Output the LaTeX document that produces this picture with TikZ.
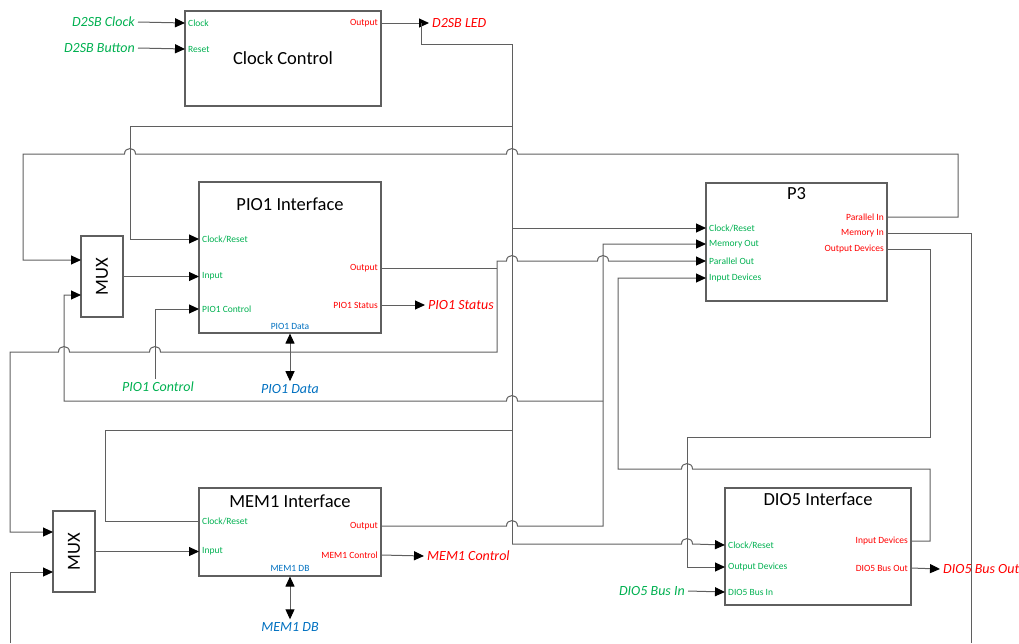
\documentclass[tikz,border=0pt]{standalone}
\usepackage{fontspec}
\setmainfont{Carlito}
\usetikzlibrary{arrows.meta}
\definecolor{ingreen}{RGB}{0,176,80}
\definecolor{outred}{RGB}{255,0,0}
\definecolor{busblue}{RGB}{0,112,192}
\definecolor{wire}{RGB}{95,95,95}
\newcommand{\wirehop}[2]{-- (#1-5.5,#2) .. controls (#1-5.5,#2-7.3) and (#1+5.5,#2-7.3) .. (#1+5.5,#2)}

\begin{document}
\begin{tikzpicture}
      [x=1pt,y=-1pt,
       every node/.style={font=\fontsize{9.5}{11}\selectfont},
       blk/.style={draw=wire,line width=1.1pt,inner sep=0pt},
       ttl/.style={font=\fontsize{18.5}{22}\selectfont},
       pin/.style={text=ingreen,anchor=west,inner sep=3pt},
       pout/.style={text=outred,anchor=east,inner sep=3pt},
       ext/.style={font=\fontsize{14}{16}\selectfont\itshape,inner sep=3pt},
       wr/.style={draw=wire,line width=1pt},
       >={Triangle[length=10pt,width=9pt,color=black]}]
      \useasboundingbox (0,0) rectangle (1019,643);

      \node [blk,minimum width=196pt,minimum height=95pt] (clk) at (283,58.5) {};
      \node [ttl] (clkT) at (283,58) {Clock Control};
      \node [pin] (clkC) at (185,23) {Clock};
      \node [pin] (clkR) at (185,49) {Reset};
      \node [pout] (clkO) at (381,23) {Output};

      \node [blk,minimum width=182pt,minimum height=151pt] (pio) at (290,257.5) {};
      \node [ttl] (pioT) at (290,204) {PIO1 Interface};
      \node [pin] (pioC) at (199,239) {Clock/Reset};
      \node [pin] (pioI) at (199,276.5) {Input};
      \node [pin] (pioP) at (199,309) {PIO1 Control};
      \node [pout] (pioO) at (381,268) {Output};
      \node [pout] (pioS) at (381,305) {PIO1 Status};
      \node [text=busblue] (pioD) at (290,326) {PIO1 Data};

      \node [blk,minimum width=182pt,minimum height=88pt] (mem) at (290,532) {};
      \node [ttl] (memT) at (290,501) {MEM1 Interface};
      \node [pin] (memC) at (199,521) {Clock/Reset};
      \node [pin] (memI) at (199,551.5) {Input};
      \node [pout] (memO) at (381,526) {Output};
      \node [pout] (memM) at (381,555) {MEM1 Control};
      \node [text=busblue] (memD) at (290,568) {MEM1 DB};

      \node [blk,minimum width=181pt,minimum height=118pt] (p3) at (796.5,242) {};
      \node [ttl] (p3T) at (796.5,194) {P3};
      \node [pin] (p3C) at (706,228) {Clock/Reset};
      \node [pin] (p3M) at (706,244) {Memory Out};
      \node [pin] (p3P) at (706,261) {Parallel Out};
      \node [pin] (p3I) at (706,278) {Input Devices};
      \node [pout] (p3PI) at (887,217) {Parallel In};
      \node [pout] (p3MI) at (887,233) {Memory In};
      \node [pout] (p3OD) at (887,249) {Output Devices};

      \node [blk,minimum width=186pt,minimum height=117pt] (dio) at (818,546.5) {};
      \node [ttl] (dioT) at (818,499) {DIO5 Interface};
      \node [pin] (dioC) at (725,545) {Clock/Reset};
      \node [pin] (dioO) at (725,567) {Output Devices};
      \node [pin] (dioB) at (725,592) {DIO5 Bus In};
      \node [pout] (dioID) at (911,541) {Input Devices};
      \node [pout] (dioBO) at (911,568) {DIO5 Bus Out};

      \node [blk,minimum width=42pt,minimum height=81pt] (mux1) at (102,276.5) {};
      \node [ttl,rotate=90] (mux1T) at (102,276.5) {MUX};
      \node [blk,minimum width=42pt,minimum height=81pt] (mux2) at (74,551.5) {};
      \node [ttl,rotate=90] (mux2T) at (74,551.5) {MUX};

      \node [ext,text=ingreen,anchor=east] (xClk) at (138,22) {D2SB Clock};
      \node [ext,text=ingreen,anchor=east] (xBtn) at (138,48) {D2SB Button};
      \node [ext,text=outred,anchor=west] (xLed) at (429,23) {D2SB LED};
      \node [ext,text=outred,anchor=west] (xSta) at (425,305) {PIO1 Status};
      \node [ext,text=ingreen] (xCtl) at (158,387) {PIO1 Control};
      \node [ext,text=busblue] (xDat) at (290,389) {PIO1 Data};
      \node [ext,text=outred,anchor=west] (xMCtl) at (424,556) {MEM1 Control};
      \node [ext,text=busblue] (xMDB) at (290,627) {MEM1 DB};
      \node [ext,text=ingreen,anchor=east] (xBin) at (688,591) {DIO5 Bus In};
      \node [ext,text=outred,anchor=west] (xBout) at (940,569) {DIO5 Bus Out};

      \coordinate (mux1a) at (81,260);
      \coordinate (mux1b) at (81,295);
      \coordinate (mux2a) at (53,532);
      \coordinate (mux2b) at (53,572);
      \coordinate (ledJ) at (421,23);
      \coordinate (busT) at (512,44);
      \coordinate (busB) at (512,544);
      \coordinate (pioCk) at (130,126);
      \coordinate (memCk) at (105,430);
      \coordinate (ctlX) at (155,309);
      \coordinate (fbL) at (23,154);
      \coordinate (fbR) at (958,154);
      \coordinate (piJ) at (497,268);
      \coordinate (poL) at (10,352);
      \coordinate (poR) at (497,352);
      \coordinate (moJ) at (603,526);
      \coordinate (mxL) at (64,401);
      \coordinate (miB) at (971,643);
      \coordinate (lowL) at (10,643);
      \coordinate (odA) at (930,437);
      \coordinate (odB) at (687,437);
      \coordinate (idA) at (618,469);
      \coordinate (idB) at (930,469);

      \draw [wr,->] (xClk.east) -- (clkC.west);
      \draw [wr,->] (xBtn.east) -- (clkR.west);
      \draw [wr,->] (clkO.east) -- (xLed.west);
      \draw [wr] (ledJ) |- (busT) -- (busB);
      \draw [wr,->] (busB) \wirehop{687}{544} -- (dioC.west);
      \draw [wr,->] (busT |- pioCk) -- (pioCk) |- (pioC.west);
      \draw [wr,->] (busT |- p3C) -- (p3C.west);
      \draw [wr] (busT |- memCk) -- (memCk) |- (memC.west);

      \draw [wr,->] (mux1.east) -- (pioI.west);
      \draw [wr,->] (mux2.east) -- (memI.west);
      \draw [wr,->] (xCtl.north -| ctlX) -- (ctlX) -- (pioP.west);
      \draw [wr,->] (pioS.east) -- (xSta.west);
      \draw [wr,<->] (pio.south) -- (xDat.north);
      \draw [wr,->] (memM.east) -- (xMCtl.west);
      \draw [wr,<->] (mem.south) -- (xMDB.north);
      \draw [wr,->] (xBin.east) -- (dioB.west);
      \draw [wr,->] (dioBO.east) -- (xBout.west);

      \draw [wr,<-] (mux1a) -| (fbL) \wirehop{130}{154} \wirehop{512}{154} -- (fbR) |- (p3PI.east);
      \draw [wr] (pioO.east) -- (piJ);
      \draw [wr,<->] (mux2a) -| (poL) \wirehop{64}{352} \wirehop{155}{352} -- (poR) -- (poR |- p3P) \wirehop{512}{261} \wirehop{603}{261} -- (p3P.west);
      \draw [wr,->] (memO.east) \wirehop{512}{526} -- (moJ) |- (p3M.west);
      \draw [wr,<-] (mux1b) -| (mxL) \wirehop{512}{401} -- (moJ |- mxL);
      \draw [wr] (p3MI.east) -| (miB);
      \draw [wr,->] (p3OD.east) -| (odA) -- (odB) |- (dioO.west);
      \draw [wr,<-] (p3I.west) -| (idA) \wirehop{687}{469} -- (idB) |- (dioID.east);
      \draw [wr,->] (lowL) |- (mux2b);
    \end{tikzpicture}
\end{document}
